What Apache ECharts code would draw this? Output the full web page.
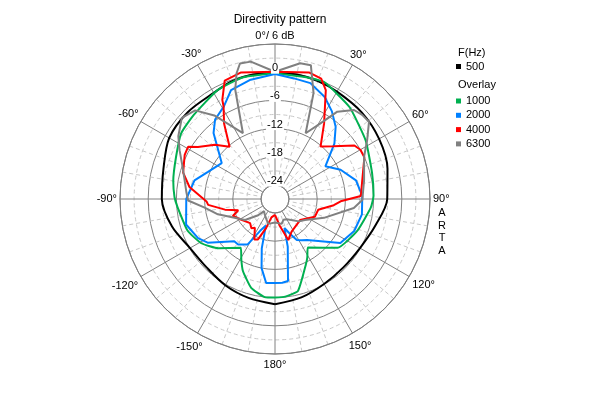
<!DOCTYPE html>
<html><head><meta charset="utf-8">
<script src="https://cdn.jsdelivr.net/npm/echarts@6/dist/echarts.min.js"></script>
<style>html,body{margin:0;padding:0;background:#fff}#c{width:600px;height:400px}</style>
</head><body><div id="c"></div>
<script>
// ---- data ----
const chartTitle = 'Directivity pattern';
const radialTicks = [-24, -18, -12, -6, 0];
const angleTicks = [-150, -120, -90, -60, -30, 0, 30, 60, 90, 120, 150, 180];
const legendHeader1 = 'F(Hz)';
const legendHeader2 = 'Overlay';
const sideLabel = 'ARTA';

const names = ['500', '1000', '2000', '4000', '6300'];

const A500 = [-180,-165,-150,-135,-120,-105,-90,-75,-60,-45,-30,-20,-10,0,10,20,30,45,60,75,90,105,120,135,150,165,180];
const V500 = [-4.6,-5.2,-5.8,-6.4,-6.1,-4.3,-2.9,-2.4,-1.0,-0.8,-0.9,-0.3,-0.1,-0.1,-0.1,-0.3,-0.6,-0.9,-1.4,-2.2,-3.1,-4.9,-6.1,-6.4,-6.1,-5.3,-4.6];

const A1000 = [-180,-174,-165,-156,-151,-145,-131,-121,-110,-95,-89,-80,-67,-55,-44,-28,-15,0,15,23,39,57,75,88,95,111,128,146,151,155,166,174,180];
const V1000 = [-6.0,-6.0,-7.4,-10.2,-12.2,-14.3,-11.0,-8.7,-7.2,-6.2,-5.6,-5.0,-4.1,-2.6,-2.1,-0.8,-0.2,-0.3,-0.2,0,-1.8,-4.0,-5.6,-6.0,-6.5,-8.2,-10.1,-14.5,-12.8,-11.5,-6.8,-6.1,-6.0];

const A2000 = [-180,-174,-169,-165,-161,-155,-149,-141,-136,-123,-117,-106,-90,-77,-68,-56,-48,-43,-37,-29,-22,-12,0,9,17,26,33,40,47,57,66,77,88,100,112,124,142,147,152,157,162,165,171,175,180];
const V2000 = [-9.1,-9.0,-12.0,-16.1,-21.0,-19.5,-15.7,-14.5,-14.5,-9.9,-8.6,-7.3,-8.1,-9.4,-11.6,-13.3,-10.5,-7.8,-5.8,-4.5,-2.0,-1.1,-0.4,-1.0,-1.2,-2.85,-4.75,-6.9,-9.7,-14.2,-11.7,-9.3,-8.4,-8.2,-8.8,-10.2,-15.9,-16.5,-17.1,-19.0,-20.5,-16.5,-9.3,-9.1,-9.1];

const A4000 = [-180,-169,-163,-157,-153,-145,-141,-134,-121,-112,-107,-102,-95,-92,-82,-74,-64,-59,-56,-48,-41,-34,-29,-28,-23,-15,0,15,21,25,33,41,48,56,60,65,78,88,92,96,104,114,130,153,162,170,180];
const V4000 = [-23.6,-23.0,-20.5,-17.6,-17.3,-19.5,-19.0,-19.6,-18.5,-17.3,-18.8,-16.1,-12.7,-12.4,-8.6,-6.65,-5.6,-5.4,-7.2,-9.75,-12.25,-7.6,-4.4,-3.1,0.4,0.9,0.1,0.9,0.45,-1.4,-7.8,-12.2,-10.2,-6.6,-6.0,-6.0,-8.0,-8.7,-13,-14.4,-17.5,-17.7,-20.0,-19.2,-17.8,-21.2,-23.6];

const A6300 = [-180,-165,-158,-147,-138,-134,-125,-105,-97,-91,-86,-71,-63,-57,-49,-42,-36,-26,-20,-17,-14.5,-10,0,10.5,15,20,25,31,35.5,41.6,46,50.6,57.4,64.6,78,90.6,96.5,111,125,133,150,158,165,180];
const V6300 = [-22,-21.5,-22.2,-23,-23.5,-22,-19.2,-14.4,-11.9,-8.5,-8.1,-6.2,-4.2,-2.45,-0.7,-1.6,-5.0,-11.4,-2.25,1.0,2.8,2.7,0.1,2.4,2.5,-3.0,-11.55,-8.2,-4.15,-1.66,-1.2,-1.1,-3.7,-6.0,-7.6,-8.4,-10.1,-15.8,-19.2,-20,-22,-22.2,-21.5,-22];

const colors = ['#000000', '#00b050', '#0080ff', '#ff0000', '#808080'];
const smoothing = [0.3, 0.15, 0, 0, 0];

// ---- chart ----
const FONT = '"Liberation Sans", Arial, sans-serif';
const chart = echarts.init(document.getElementById('c'), null, {renderer: 'canvas'});
const pairs = (a, v) => a.map((x, i) => [v[i], x]);
const seriesData = [pairs(A500, V500), pairs(A1000, V1000), pairs(A2000, V2000), pairs(A4000, V4000), pairs(A6300, V6300)];
const fmtAngle = v => (v === 0 ? '0°/ 6 dB' : (Math.abs(v) === 180 ? '180°' : v + '°'));

const option = {
  backgroundColor: '#ffffff',
  animation: false,
  color: colors,
  title: {
    text: chartTitle, left: 275, top: 9, textAlign: 'center',
    textStyle: {fontSize: 12, fontWeight: 'normal', color: '#000', fontFamily: FONT}
  },
  polar: {center: [275, 199], radius: [14, 155]},
  angleAxis: {
    type: 'value', min: -180, max: 180, interval: 30,
    startAngle: 270, clockwise: true,
    axisLine: {lineStyle: {color: '#808080', width: 1}},
    axisTick: {show: false},
    axisLabel: {show: false},
    splitLine: {lineStyle: {color: '#808080', width: 1}},
    minorTick: {show: false, splitNumber: 3},
    minorSplitLine: {show: true, lineStyle: {color: '#c8c8c8', width: 1, type: [4, 3]}}
  },
  radiusAxis: {
    type: 'value', min: -24, max: 6, interval: 6,
    axisLine: {show: false}, axisTick: {show: false}, axisLabel: {show: false},
    splitLine: {lineStyle: {color: '#808080', width: 1}},
    minorTick: {show: false, splitNumber: 2},
    minorSplitLine: {show: true, lineStyle: {color: '#c8c8c8', width: 1, type: [4, 3]}}
  },
  legend: [
    {
      data: [names[0]], left: 456, top: 61, orient: 'vertical', padding: 0,
      itemWidth: 5, itemHeight: 5, icon: 'rect',
      textStyle: {fontSize: 11, color: '#000', fontFamily: FONT}
    },
    {
      data: names.slice(1), left: 456, top: 95.5, orient: 'vertical', padding: 0,
      itemWidth: 5, itemHeight: 5, icon: 'rect', itemGap: 3.3,
      textStyle: {fontSize: 11, color: '#000', fontFamily: FONT}
    }
  ],
  series: names.map((n, i) => ({
    name: n, type: 'line', coordinateSystem: 'polar',
    data: seriesData[i], showSymbol: false, symbol: 'none', smooth: smoothing[i],
    lineStyle: {width: 2, color: colors[i]}, itemStyle: {color: colors[i]},
    z: 2 + i
  }))
};
chart.setOption(option);

// texts placed through the polar coordinate system
const g = [];
const ctx = document.createElement('canvas').getContext('2d');
ctx.font = '11px ' + FONT;
angleTicks.forEach(a => {
  const txt = fmtAngle(a);
  const w = ctx.measureText(txt).width, h = 10;
  const pO = chart.convertToPixel({seriesIndex: 0}, [6, a]);
  const pI = chart.convertToPixel({seriesIndex: 0}, [-24, a]);
  const dx = pO[0] - pI[0], dy = pO[1] - pI[1];
  const L = Math.hypot(dx, dy), ux = dx / L, uy = dy / L;
  const ext = Math.abs(ux) * w / 2 + Math.abs(uy) * h / 2;
  const gap = 3 + 2.5 * (uy > 0 ? uy : 0);
  g.push({
    type: 'text', x: pO[0] + ux * (gap + ext), y: pO[1] + uy * (gap + ext), z: 50,
    style: {text: txt, fontSize: 11, fontFamily: FONT, fill: '#000', align: 'center', verticalAlign: 'middle'}
  });
});
radialTicks.forEach(v => {
  const p = chart.convertToPixel({seriesIndex: 0}, [v, 0]);
  g.push({
    type: 'text', x: p[0], y: p[1] - 4, z: 50,
    style: {text: String(v), fontSize: 11, fontFamily: FONT, fill: '#000',
      align: 'center', verticalAlign: 'middle', backgroundColor: '#fff', padding: [0, 1]}
  });
});
g.push({type: 'text', x: 458, y: 53, style: {text: legendHeader1, fontSize: 11, fontFamily: FONT, fill: '#000', verticalAlign: 'middle'}});
g.push({type: 'text', x: 458, y: 84.5, style: {text: legendHeader2, fontSize: 11, fontFamily: FONT, fill: '#000', verticalAlign: 'middle'}});
const p90 = chart.convertToPixel({seriesIndex: 0}, [6, 90]);
g.push({type: 'text', x: p90[0] + 12, y: 207,
  style: {text: sideLabel.split('').join('\n'), fontSize: 11, fontFamily: FONT, fill: '#000', align: 'center', verticalAlign: 'top', lineHeight: 12.5}});
chart.setOption({graphic: g});
</script>
</body></html>
